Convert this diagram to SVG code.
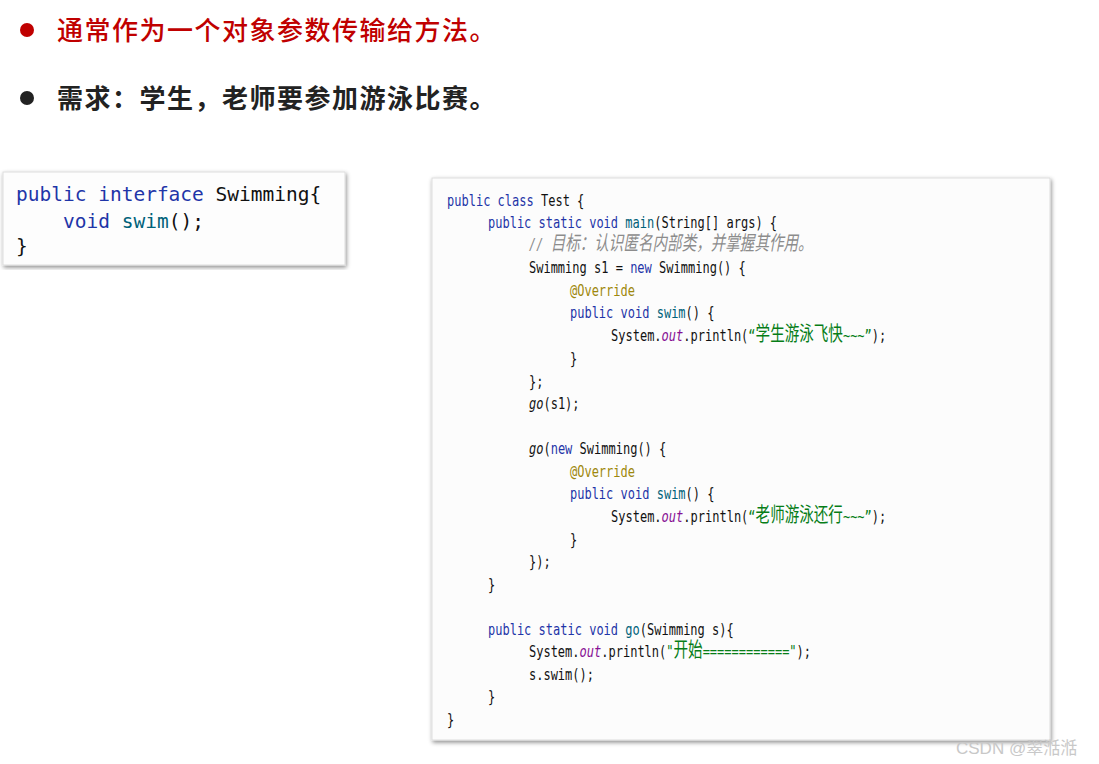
<svg xmlns="http://www.w3.org/2000/svg" width="1099" height="764" viewBox="0 0 1099 764">
<defs>
<filter id="sh" x="-5%" y="-5%" width="110%" height="110%"><feDropShadow dx="1" dy="2" stdDeviation="2" flood-color="#000" flood-opacity="0.45"/></filter>
<style>
.h{font-family:"Noto Sans CJK SC",sans-serif;font-size:26px;letter-spacing:1.5px}
.c{font-family:"DejaVu Sans Mono","Noto Sans CJK SC",monospace;font-size:16.5px;fill:#111}
.c2{font-family:"DejaVu Sans Mono",monospace;font-size:19.5px;fill:#111}
.k{fill:#1f35a8}.m{fill:#00627a}.o{fill:#871094;font-style:italic}.s{fill:#067d17}.cm{fill:#8c8c8c;font-style:italic}.a{fill:#9e880d}.i{font-style:italic}
.cn{font-size:20px}
</style>
</defs>
<rect width="1099" height="764" fill="#fff"/>
<g id="bullet1"><circle cx="27" cy="30" r="7" fill="#c00000"/><text class="h" x="57" y="40" fill="#c00000" font-weight="500">通常作为一个对象参数传输给方法。</text></g>
<g id="bullet2"><circle cx="27" cy="98" r="7" fill="#222"/><text class="h" x="57" y="108" fill="#222" font-weight="bold">需求：学生，老师要参加游泳比赛。</text></g>
<g id="iface">
<rect x="3" y="172" width="342" height="93" fill="#fdfdfd" stroke="#ddd" filter="url(#sh)"/>
<text class="c2" x="16" y="201"><tspan class="k">public interface</tspan> Swimming{</text>
<text class="c2" x="63" y="228"><tspan class="k">void</tspan> <tspan class="m">swim</tspan>();</text>
<text class="c2" x="16" y="253">}</text>
</g>
<g id="test">
<rect x="432" y="178" width="618" height="562" fill="#fcfcfc" stroke="#ddd" filter="url(#sh)"/>
<g class="c" transform="translate(447,0) scale(0.728,1)">
<text x="0" y="206"><tspan class="k">public class</tspan> Test {</text>
<text x="56.3" y="228"><tspan class="k">public static void</tspan> <tspan class="m">main</tspan>(String[] args) {</text>
<text x="112.6" y="250" class="cm"><tspan>// </tspan><tspan class="cn">目标：认识匿名内部类，并掌握其作用。</tspan></text>
<text x="112.6" y="273">Swimming s1 = <tspan class="k">new</tspan> Swimming() {</text>
<text x="168.9" y="296" class="a">@Override</text>
<text x="168.9" y="318"><tspan class="k">public void</tspan> <tspan class="m">swim</tspan>() {</text>
<text x="225.3" y="341">System.<tspan class="o">out</tspan>.println(<tspan class="s">“<tspan class="cn">学生游泳飞快</tspan>~~~”</tspan>);</text>
<text x="168.9" y="364">}</text>
<text x="112.6" y="387">};</text>
<text x="112.6" y="409"><tspan class="i">go</tspan>(s1);</text>
<text x="112.6" y="454"><tspan class="i">go</tspan>(<tspan class="k">new</tspan> Swimming() {</text>
<text x="168.9" y="477" class="a">@Override</text>
<text x="168.9" y="499"><tspan class="k">public void</tspan> <tspan class="m">swim</tspan>() {</text>
<text x="225.3" y="522">System.<tspan class="o">out</tspan>.println(<tspan class="s">“<tspan class="cn">老师游泳还行</tspan>~~~”</tspan>);</text>
<text x="168.9" y="545">}</text>
<text x="112.6" y="567">});</text>
<text x="56.3" y="590">}</text>
<text x="56.3" y="635"><tspan class="k">public static void</tspan> <tspan class="m">go</tspan>(Swimming s){</text>
<text x="112.6" y="657">System.<tspan class="o">out</tspan>.println(<tspan class="s">"<tspan class="cn">开始</tspan>============"</tspan>);</text>
<text x="112.6" y="680">s.swim();</text>
<text x="56.3" y="702">}</text>
<text x="0" y="725">}</text>
</g>
</g>
<text x="956" y="754" font-family="'Liberation Sans','Noto Sans CJK SC',sans-serif" font-size="17" fill="#c8c8c8">CSDN @翠湉湉</text>
</svg>
